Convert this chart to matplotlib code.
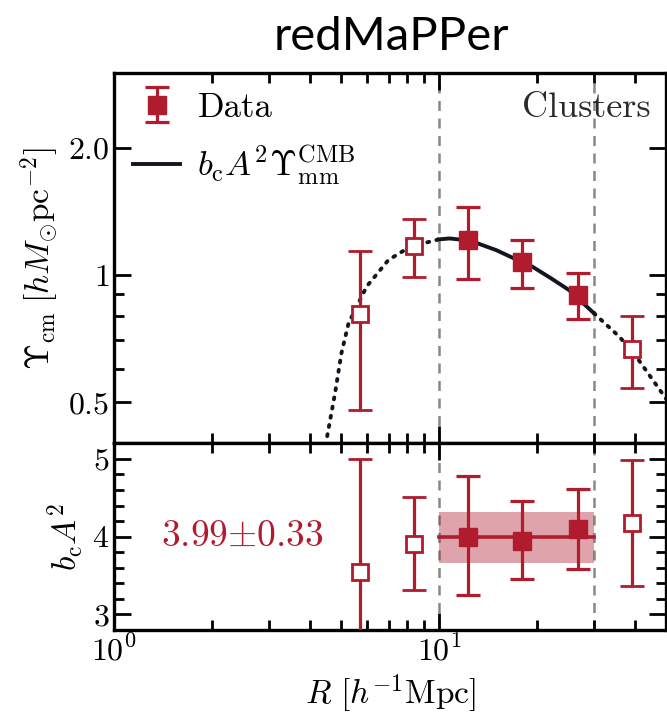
import matplotlib
matplotlib.use('Agg')
import matplotlib.pyplot as plt
import numpy as np
from matplotlib.ticker import FixedLocator, NullFormatter, LogLocator

plt.rcParams['font.family'] = 'serif'
plt.rcParams['font.serif'] = ['cmr10']
plt.rcParams['mathtext.fontset'] = 'cm'
plt.rcParams['axes.formatter.use_mathtext'] = True

# --- data ---
r_pts = [5.70, 8.41, 12.3, 18.0, 26.8, 39.2]
used = [False, False, True, True, True, False]

ups = [0.809, 1.17, 1.209, 1.073, 0.897, 0.670]
ups_hi = [1.14, 1.353, 1.449, 1.209, 1.013, 0.802]
ups_lo = [0.479, 0.991, 0.979, 0.933, 0.786, 0.541]

bA2 = [3.55, 3.91, 4.00, 3.95, 4.10, 4.17]
bA2_hi = [5.00, 4.51, 4.78, 4.46, 4.61, 4.99]
bA2_lo = [2.60, 3.31, 3.25, 3.45, 3.58, 3.37]

model_r = [4.53, 4.79, 5.01, 5.27, 5.99, 6.99, 8.15, 10.0, 10.8, 12.5, 15.0,
           17.0, 19.4, 22.0, 25.1, 30.0, 35.9, 40.0, 44.0, 50.0]
model_u = [0.416, 0.526, 0.653, 0.769, 0.939, 1.085, 1.166, 1.214, 1.22, 1.205,
           1.145, 1.095, 1.046, 0.985, 0.922, 0.812, 0.715, 0.650, 0.586, 0.510]

fit_val = 3.99
fit_err = 0.33
r_min, r_max = 10, 30

red = '#b01c2e'
ink = '#151520'

fig = plt.figure(figsize=(6.67, 7.18), dpi=100)
ax1 = fig.add_axes([0.171, 0.3826, 0.8275, 0.5155])
ax2 = fig.add_axes([0.171, 0.1226, 0.8275, 0.26])

fig.text(0.5875, 0.949, 'redMaPPer', family='Lato', fontsize=34,
         ha='center', va='center')

model_r = np.array(model_r)
model_u = np.array(model_u)
inside = (model_r >= r_min) & (model_r <= r_max)
lower = model_r <= r_min
upper = model_r >= r_max
dots = (0, (0.5, 1.9))
ax1.plot(model_r[lower], model_u[lower], ls=dots, color=ink, lw=2.8,
         dash_capstyle='round')
ax1.plot(model_r[upper], model_u[upper], ls=dots, color=ink, lw=2.8,
         dash_capstyle='round')
ax1.plot(model_r[inside], model_u[inside], '-', color=ink, lw=2.8,
         label=r'$b_{\rm c}A^2\Upsilon_{\rm mm}^{\rm CMB}$')

err_kw = dict(color=red, lw=2.3, capsize=8.5, capthick=2.3, ls='none')
for i, r in enumerate(r_pts):
    y1 = ups[i]
    y2 = bA2[i]
    e1 = [[y1 - ups_lo[i]], [ups_hi[i] - y1]]
    e2 = [[y2 - bA2_lo[i]], [bA2_hi[i] - y2]]
    if used[i]:
        mk = dict(marker='s', ms=13, mfc=red, mec=red)
    else:
        mk = dict(marker='s', ms=11, mfc='white', mec=red, mew=2.0)
    lab = 'Data' if i == 2 else None
    ax1.errorbar([r], [y1], yerr=e1, label=lab, zorder=4, **err_kw, **mk)
    ax2.errorbar([r], [y2], yerr=e2, zorder=4, **err_kw, **mk)

ax2.fill_between([r_min, r_max], fit_val - fit_err, fit_val + fit_err,
                 color=red, alpha=0.4, lw=0, zorder=2)
ax2.plot([r_min, r_max], [fit_val, fit_val], color=red, lw=2.6, zorder=3)
ax2.text(2.48, 4.0, r'$3.99{\pm}0.33$', color=red, fontsize=27,
         ha='center', va='center')

for ax in (ax1, ax2):
    ax.axvline(r_min, color='#888888', ls='--', lw=1.8, dashes=(4, 3), zorder=1)
    ax.axvline(r_max, color='#888888', ls='--', lw=1.8, dashes=(4, 3), zorder=1)
    ax.set_xscale('log')
    ax.set_xlim(1, 50)
    ax.xaxis.set_major_locator(FixedLocator([1, 10]))
    ax.xaxis.set_minor_locator(LogLocator(base=10, subs=np.arange(2, 10)))
    ax.xaxis.set_minor_formatter(NullFormatter())
    ax.tick_params(which='both', direction='in', top=True, right=True,
                   labelsize=23, width=2.0)
    ax.tick_params(which='major', length=12)
    ax.tick_params(which='minor', length=7)
    for s in ax.spines.values():
        s.set_linewidth(2.4)

ax1.set_yscale('log')
ax1.set_ylim(0.4, 3.0)
ax1.yaxis.set_major_locator(FixedLocator([0.5, 1, 2]))
ax1.set_yticklabels([r'$0.5$', r'$1$', r'$2.0$'])
ax1.yaxis.set_minor_locator(FixedLocator([0.6, 0.7, 0.8, 0.9]))
ax1.yaxis.set_minor_formatter(NullFormatter())
ax1.set_xticklabels([])
ax1.set_ylabel(r'$\Upsilon_{\rm cm}\;[h M_{\odot} {\rm pc}^{-2}]$', fontsize=24)
ax1.text(0.972, 0.905, 'Clusters', transform=ax1.transAxes, fontsize=26,
         ha='right', va='center', color='#2a2a2a')

handles, labels = ax1.get_legend_handles_labels()
order = [labels.index('Data'), labels.index(r'$b_{\rm c}A^2\Upsilon_{\rm mm}^{\rm CMB}$')]
ax1.legend([handles[k] for k in order], [labels[k] for k in order],
           loc='upper left', frameon=False, fontsize=25, handlelength=1.35,
           handletextpad=0.5, borderaxespad=0.15, labelspacing=0.55)

ax2.set_ylim(2.8, 5.2)
ax2.set_yticks([3, 4, 5])
ax2.set_yticklabels([r'$3$', r'$4$', r'$5$'])
ax2.yaxis.set_minor_locator(FixedLocator(np.arange(2.8, 5.21, 0.2)))
ax2.set_xticklabels([r'$10^0$', r'$10^1$'])
ax2.set_ylabel(r'$b_{\rm c}A^2$', fontsize=24)
ax2.set_xlabel(r'$R\ [h^{-1}{\rm Mpc}]$', fontsize=24)

fig.savefig('out.png', dpi=100)
